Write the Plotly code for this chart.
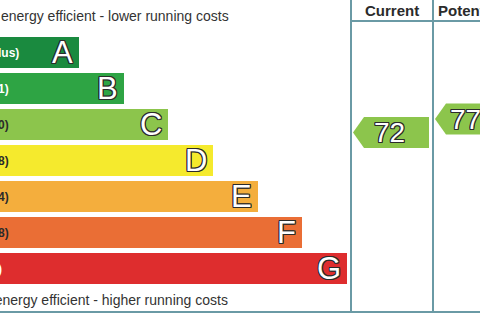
import plotly.graph_objects as go

# ---- data ----
bands = ["A", "B", "C", "D", "E", "F", "G"]
ranges = ["(92 plus)", "(81-91)", "(69-80)", "(55-68)", "(39-54)", "(21-38)", "(1-20)"]
band_colors = ["#1a8a3f", "#2ea444", "#8cc54c", "#f5ea2d", "#f4ae3d", "#ea6e35", "#de2d2e"]
range_text_colors = ["white", "white", "#2a2a2a", "#2a2a2a", "#2a2a2a", "#2a2a2a", "white"]
columns = ["Current", "Potential"]
ratings = [72, 77]
rating_band = [2, 2]
top_note = "Very energy efficient - lower running costs"
bottom_note = "Not energy efficient - higher running costs"

# ---- layout constants (pixel-like units) ----
W, H = 480, 320
ROW = 36.0            # row pitch
ROW0 = 52.5           # centre of first row (pixels)
bar_len0, bar_step = 79, 44.65
col_left = [351, 433]
col_w = 82
text_offset = [25, 19]
line_col = "#6a9aa5"
outline = "-1px -1px 0 #2b2b2b, 1px -1px 0 #2b2b2b, -1px 1px 0 #2b2b2b, 1px 1px 0 #2b2b2b, 0 1px 0 #2b2b2b, 0 -1px 0 #2b2b2b, 1px 0 0 #2b2b2b, -1px 0 0 #2b2b2b"

def py(pix):  # pixel row -> y axis unit
    return (pix - ROW0) / ROW

fig = go.Figure()

idx = list(range(len(bands)))
lens = [bar_len0 + bar_step * i for i in idx]
fig.add_trace(go.Bar(
    y=idx, x=lens, base=0, orientation="h", width=0.87,
    marker=dict(color=band_colors, line=dict(width=0)),
    hoverinfo="skip", showlegend=False,
))

for i, b in enumerate(bands):
    fig.add_annotation(x=lens[i] - 4, y=i, xref="x", yref="y", text=b, showarrow=False,
                       xanchor="right", yanchor="middle",
                       font=dict(family="Liberation Sans, Arial", size=31, color="white", shadow=outline))
    fig.add_annotation(x=-32 / W, y=i, xref="paper", yref="y", text="<b>" + ranges[i] + "</b>",
                       showarrow=False, xanchor="left", yanchor="middle",
                       font=dict(family="Liberation Sans, Arial", size=12, color=range_text_colors[i]))

# rating arrows
def rating_y(v):
    return 2.035 + (74.5 - v) * 0.074

half = 0.43
for c, (v, bnd) in enumerate(zip(ratings, rating_band)):
    yc = rating_y(v)
    tip = col_left[c] + 2
    body = tip + 11
    right = tip + 76
    xs = [tip, body, right, right, body, tip]
    ys = [yc, yc - half, yc - half, yc + half, yc + half, yc]
    fig.add_trace(go.Scatter(x=xs, y=ys, fill="toself", fillcolor=band_colors[bnd],
                             mode="lines", line=dict(width=0, color=band_colors[bnd]),
                             hoverinfo="skip", showlegend=False))
    fig.add_annotation(x=body + text_offset[c], y=yc, xref="x", yref="y", text=str(v), showarrow=False,
                       xanchor="center", yanchor="middle",
                       font=dict(family="Liberation Sans, Arial", size=28, color="white", shadow=outline))
    fig.add_annotation(x=col_left[c] + col_w / 2 - (0 if c == 0 else 5), y=py(10.5), xref="x", yref="y",
                       text="<b>" + columns[c] + "</b>", showarrow=False,
                       xanchor="center", yanchor="middle",
                       font=dict(family="Liberation Sans, Arial", size=15, color="#2b2b2b"))

# notes
fig.add_annotation(x=231, y=py(16), xref="x", yref="y", text=top_note, showarrow=False,
                   xanchor="right", yanchor="middle",
                   font=dict(family="Liberation Sans, Arial", size=14, color="#333333"))
fig.add_annotation(x=230, y=py(300), xref="x", yref="y", text=bottom_note, showarrow=False,
                   xanchor="right", yanchor="middle",
                   font=dict(family="Liberation Sans, Arial", size=14, color="#333333"))

# frame lines
shapes = []
for xl in col_left + [col_left[1] + col_w]:
    shapes.append(dict(type="line", xref="x", yref="y", x0=xl, x1=xl, y0=py(-2), y1=py(312),
                       line=dict(color=line_col, width=2)))
shapes.append(dict(type="line", xref="x", yref="y", x0=col_left[0], x1=W + 10, y0=py(21), y1=py(21),
                   line=dict(color=line_col, width=2)))
shapes.append(dict(type="line", xref="x", yref="y", x0=-10, x1=W + 10, y0=py(312), y1=py(312),
                   line=dict(color=line_col, width=2)))
fig.update_layout(shapes=shapes)

fig.update_layout(
    width=W, height=H, margin=dict(l=0, r=0, t=0, b=0),
    paper_bgcolor="white", plot_bgcolor="white",
    xaxis=dict(range=[0, W], visible=False, fixedrange=True),
    yaxis=dict(range=[py(H), py(0)], visible=False, fixedrange=True),
    showlegend=False, bargap=0,
)

fig.write_html("out.html", config={"displayModeBar": False})
